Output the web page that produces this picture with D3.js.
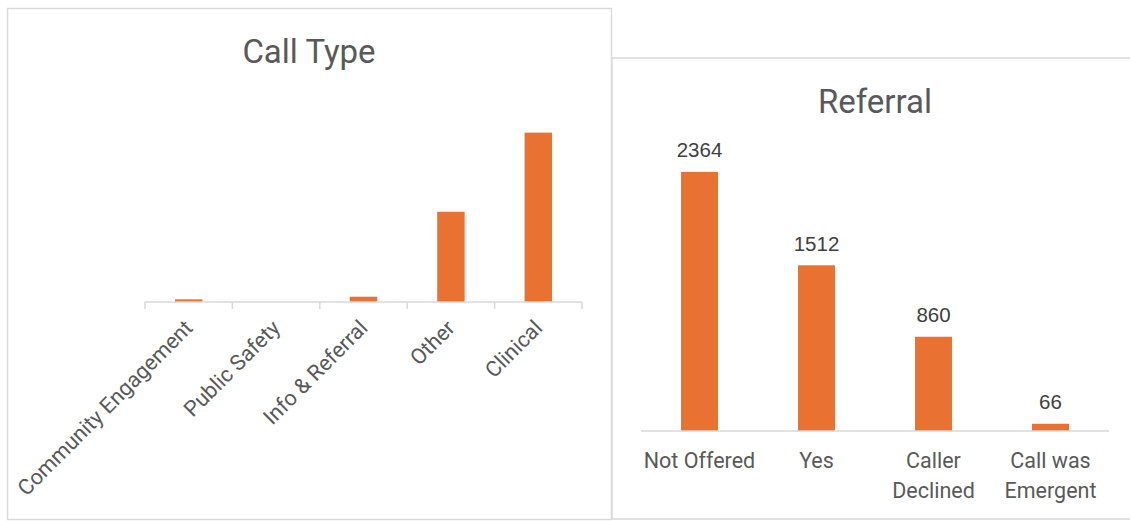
<!DOCTYPE html>
<html>
<head>
<meta charset="utf-8">
<script src="https://cdn.jsdelivr.net/npm/d3@7"></script>
<style>
  html, body { margin: 0; padding: 0; background: #ffffff; }
  svg { display: block; }
</style>
</head>
<body>
<div id="chart"></div>
<script>
// chart data
const callTypes = ["Community Engagement", "Public Safety", "Info & Referral", "Other", "Clinical"]
const callCounts = [48, 0, 95, 1620, 3040]
const callAxisMax = 3500

const referralTypes = ["Not Offered", "Yes", "Caller Declined", "Call was Emergent"]
const referralCounts = [2364, 1512, 860, 66]
const referralAxisMax = 2500

const barColor = "#E97132"
const textColor = "#595959"
const gridColor = "#D9D9D9"
const uiFont = "Roboto, 'Open Sans', sans-serif"

const svg = d3.select("#chart").append("svg")
    .attr("width", 1130)
    .attr("height", 521)

// ---------- left panel : Call Type ----------
const left = svg.append("g")

left.append("rect")
    .attr("x", 7.5).attr("y", 8.5)
    .attr("width", 604).attr("height", 511)
    .attr("fill", "#fff")
    .attr("stroke", gridColor)
    .attr("stroke-width", 1.5)

left.append("text")
    .attr("x", 309).attr("y", 62.5)
    .attr("text-anchor", "middle")
    .style("font-family", uiFont)
    .style("font-size", "33px")
    .style("fill", textColor)
    .text("Call Type")

const xCall = d3.scaleBand()
    .domain(callTypes)
    .range([145, 582])
    .paddingInner(0.686)
    .paddingOuter(0.343)

const yCall = d3.scaleLinear()
    .domain([0, callAxisMax])
    .range([302, 107])

left.append("g")
    .selectAll("rect")
    .data(callTypes)
    .enter()
    .append("rect")
        .attr("x", d => xCall(d))
        .attr("width", xCall.bandwidth())
        .attr("y", (d, i) => yCall(callCounts[i]))
        .attr("height", (d, i) => yCall(0) - yCall(callCounts[i]))
        .attr("fill", barColor)

// category axis with ticks between categories
const step = xCall.step()
const tickXs = d3.range(callTypes.length + 1).map(i => 145 + i * step)
left.append("line")
    .attr("x1", 145).attr("x2", 582)
    .attr("y1", 302).attr("y2", 302)
    .attr("stroke", gridColor).attr("stroke-width", 1.5)
left.append("g")
    .selectAll("line")
    .data(tickXs)
    .enter()
    .append("line")
        .attr("x1", d => d).attr("x2", d => d)
        .attr("y1", 302).attr("y2", 309)
        .attr("stroke", gridColor).attr("stroke-width", 1.5)

left.append("g")
    .selectAll("text")
    .data(callTypes)
    .enter()
    .append("text")
        .attr("transform", d => "translate(" + (xCall(d) + xCall.bandwidth() / 2) + ",324) rotate(-45)")
        .attr("text-anchor", "end")
        .attr("dy", "0.35em")
        .style("font-family", uiFont)
        .style("font-size", "21.6px")
        .style("fill", textColor)
        .text(d => d)

// ---------- right panel : Referral ----------
const right = svg.append("g")

right.append("rect")
    .attr("x", 612).attr("y", 58)
    .attr("width", 530).attr("height", 461)
    .attr("fill", "#fff")
    .attr("stroke", gridColor)
    .attr("stroke-width", 1.5)

right.append("text")
    .attr("x", 875).attr("y", 113)
    .attr("text-anchor", "middle")
    .style("font-family", uiFont)
    .style("font-size", "33px")
    .style("fill", textColor)
    .text("Referral")

const xRef = d3.scaleBand()
    .domain(referralTypes)
    .range([641, 1109])
    .paddingInner(0.684)
    .paddingOuter(0.342)

const yRef = d3.scaleLinear()
    .domain([0, referralAxisMax])
    .range([431, 157])

right.append("g")
    .selectAll("rect")
    .data(referralTypes)
    .enter()
    .append("rect")
        .attr("x", d => xRef(d))
        .attr("width", xRef.bandwidth())
        .attr("y", (d, i) => yRef(referralCounts[i]))
        .attr("height", (d, i) => yRef(0) - yRef(referralCounts[i]))
        .attr("fill", barColor)

right.append("line")
    .attr("x1", 641).attr("x2", 1109)
    .attr("y1", 431).attr("y2", 431)
    .attr("stroke", gridColor).attr("stroke-width", 1.5)

// data labels above the bars
right.append("g")
    .selectAll("text")
    .data(referralTypes)
    .enter()
    .append("text")
        .attr("x", d => xRef(d) + xRef.bandwidth() / 2)
        .attr("y", (d, i) => yRef(referralCounts[i]) - 14.5)
        .attr("text-anchor", "middle")
        .style("font-family", "'Liberation Sans', Arial, sans-serif")
        .style("font-size", "20.5px")
        .style("fill", "#404040")
        .text((d, i) => referralCounts[i])

// category labels, wrapped to the band width like Excel does
const refLabels = right.append("g")
    .selectAll("text")
    .data(referralTypes)
    .enter()
    .append("text")
        .attr("x", d => xRef(d) + xRef.bandwidth() / 2)
        .attr("y", 468)
        .attr("text-anchor", "middle")
        .style("font-family", uiFont)
        .style("font-size", "21.5px")
        .style("fill", textColor)

refLabels.each(function(d) {
    const el = d3.select(this)
    const cx = xRef(d) + xRef.bandwidth() / 2
    const words = d.split(" ")
    let lines = []
    let line = []
    let probe = el.append("tspan")
    words.forEach(w => {
        line.push(w)
        probe.text(line.join(" "))
        if (probe.node().getComputedTextLength() > xRef.step() - 4 && line.length > 1) {
            line.pop()
            lines.push(line.join(" "))
            line = [w]
        }
    })
    lines.push(line.join(" "))
    probe.remove()
    lines.forEach((l, i) => {
        el.append("tspan")
            .attr("x", cx)
            .attr("dy", i === 0 ? 0 : 29.5)
            .text(l)
    })
})
</script>
</body>
</html>
